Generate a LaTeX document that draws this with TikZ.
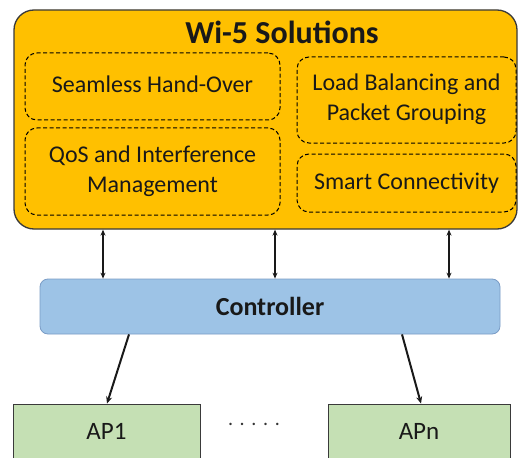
\documentclass[tikz,border=0pt]{standalone}
\usepackage{fontspec}
\setmainfont{Carlito}
\usetikzlibrary{arrows.meta}
\definecolor{gold}{HTML}{FFC000}
\definecolor{ctrlfill}{HTML}{9DC3E6}
\definecolor{ctrlline}{HTML}{7A9CC6}
\definecolor{apfill}{HTML}{C5E0B4}
\definecolor{edge}{HTML}{3A3A3A}
\newcommand{\twolines}[3]{\raisebox{#1}{\begin{tabular}{@{}c@{}}#2\\#3\end{tabular}}}
\tikzset{
  outerbox/.style={draw=edge, line width=1.3pt, fill=gold, rounded corners=20pt, minimum width=503pt, minimum height=219pt, inner sep=0pt},
  dashbox/.style={draw=black, dash pattern=on 4pt off 2.5pt, line width=1pt, rounded corners=12pt, align=center, inner sep=0pt, font=\fontsize{24}{30}\selectfont, text=black!90},
  ctrlbox/.style={draw=ctrlline, line width=0.8pt, fill=ctrlfill, rounded corners=8pt, minimum width=460pt, minimum height=55pt, font=\bfseries\fontsize{26}{30}\selectfont, text=black!90},
  apbox/.style={draw=edge, line width=0.9pt, fill=apfill, minimum height=58pt, font=\fontsize{25}{28}\selectfont, text=black!90},
  conn/.style={line width=1.2pt, black!90},
  biarrow/.style={conn, {Stealth[length=6pt,width=5pt]}-{Stealth[length=6pt,width=5pt]}},
  downarrow/.style={conn, line width=2pt, -{Stealth[length=7pt,width=6pt]}}
}
\begin{document}
\begin{tikzpicture}[x=1pt,y=-1pt]
\clip (0,0) rectangle (518,457);
\fill[white] (0,0) rectangle (518,457);
\node[outerbox] (outer) at (265.5,119.5) {};
\node[font=\bfseries\fontsize{32}{36}\selectfont, text=black!90] (title) at (282,32) {Wi-5 Solutions};
\node[dashbox, minimum width=255pt, minimum height=67pt] (seam) at (152.5,86.5) {\raisebox{4pt}{Seamless Hand-Over}};
\node[dashbox, minimum width=255pt, minimum height=87pt] (qos) at (152.5,171.5) {\twolines{-2pt}{QoS and Interference}{Management}};
\node[dashbox, minimum width=219pt, minimum height=86pt] (load) at (406.5,100) {\twolines{-4pt}{Load Balancing and}{Packet Grouping}};
\node[dashbox, minimum width=219pt, minimum height=58pt] (smart) at (406.5,183) {Smart Connectivity};
\node[ctrlbox] (ctrl) at (270,306.5) {Controller};
\node[apbox, minimum width=187pt] (ap1) at (106.5,433) {\raisebox{3pt}{AP1}};
\node[apbox, minimum width=182pt] (apn) at (419,433) {\raisebox{3pt}{APn}};
\node[font=\fontsize{20}{24}\selectfont, text=black!80] (dots) at (254,424) {.\,\,.\,\,.\,\,.\,\,.};
\draw[biarrow] ([xshift=-162.5pt]outer.south) -- ([xshift=-167pt]ctrl.north);
\draw[biarrow] ([xshift=9.5pt]outer.south) -- ([xshift=5pt]ctrl.north);
\draw[biarrow] ([xshift=183.5pt]outer.south) -- ([xshift=179pt]ctrl.north);
\draw[downarrow] ([xshift=-141pt]ctrl.south) -- ([xshift=0.5pt]ap1.north);
\draw[downarrow] ([xshift=132pt]ctrl.south) -- ([xshift=2pt]apn.north);
\end{tikzpicture}
\end{document}
